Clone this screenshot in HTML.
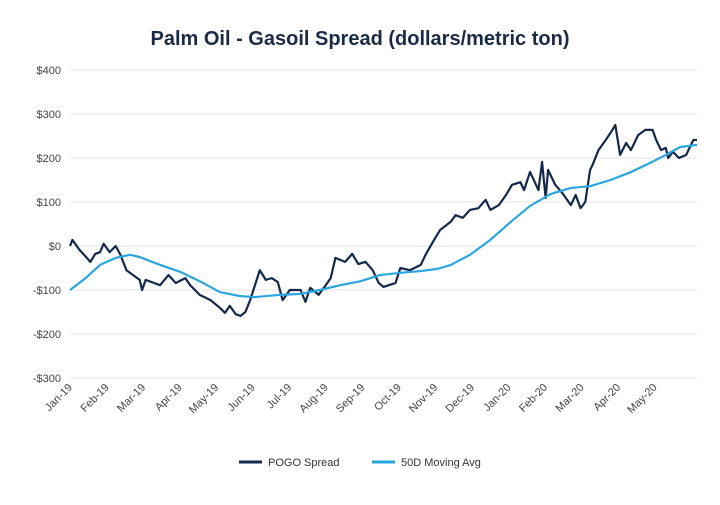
<!DOCTYPE html>
<html><head><meta charset="utf-8"><style>
body{margin:0;background:#fff;font-family:"Liberation Sans",sans-serif}
svg text{font-family:"Liberation Sans",sans-serif}
</style></head><body>
<svg width="720" height="500" viewBox="0 0 720 500">
<text x="360" y="45" text-anchor="middle" font-size="20" font-weight="bold" fill="#1b2a47">Palm Oil - Gasoil Spread (dollars/metric ton)</text>
<g id="grid"></g><g id="ylab"></g><g id="xlab"></g><g id="series"></g>
<g>
<g><line x1="239" y1="462" x2="262" y2="462" stroke="#13294b" stroke-width="3"/><text x="268" y="466" font-size="11" fill="#333">POGO Spread</text></g>
<g><line x1="372" y1="462" x2="395" y2="462" stroke="#2aa6de" stroke-width="3"/><text x="401" y="466" font-size="11" fill="#333">50D Moving Avg</text></g>
</g>
</svg>
<script>
const yTicks=[400,300,200,100,0,-100,-200,-300];
const yTickLabels=["$400","$300","$200","$100","$0","-$100","-$200","-$300"];
const months=["Jan-19","Feb-19","Mar-19","Apr-19","May-19","Jun-19","Jul-19","Aug-19","Sep-19","Oct-19","Nov-19","Dec-19","Jan-20","Feb-20","Mar-20","Apr-20","May-20"];
const spreadDays=[0,2,8,14,17,21,25,28,33,38,42,47,58,60,63,75,82,88,96,100,108,117,125,129,133,138,142,146,150,154,158,163,168,173,177,183,192,196,200,207,213,217,221,229,235,240,246,252,257,261,271,275,283,292,296,304,308,317,321,327,333,340,346,350,357,363,368,375,378,383,388,390,393,396,398,404,410,417,421,425,429,433,435,440,446,450,454,458,463,467,473,479,485,488,492,496,498,502,507,513,517,519,522];
const spreadVals=[0,14,-9,-27,-36,-18,-14,5,-14,0,-20,-55,-77,-100,-77,-89,-66,-84,-73,-89,-111,-123,-141,-152,-136,-155,-159,-150,-123,-89,-55,-77,-73,-82,-123,-100,-100,-127,-95,-111,-89,-73,-27,-36,-18,-41,-36,-55,-84,-93,-84,-50,-55,-43,-20,18,36,55,70,64,82,86,105,82,93,116,139,145,127,168,139,127,191,109,173,139,120,93,116,86,100,173,184,218,241,257,275,207,234,218,252,264,264,241,218,223,200,214,200,207,230,241,241];
const maDays=[0,13,25,38,50,58,75,92,108,125,142,154,175,192,208,225,242,258,275,292,306,317,333,350,367,383,400,417,433,450,467,483,496,508,522];
const maVals=[-100,-73,-43,-27,-20,-25,-43,-59,-80,-105,-114,-116,-111,-109,-100,-89,-80,-66,-61,-57,-52,-43,-20,14,55,91,118,132,136,150,168,189,207,225,230];
const X0=70,X1=697,Y0=246,PX=0.44,DAYS=522,MONTH=30.42;
const x=d=>X0+d*(X1-X0)/DAYS;
const y=v=>Y0-v*PX;
const NS="http://www.w3.org/2000/svg";
function mk(t,a,p){const e=document.createElementNS(NS,t);for(const k in a)e.setAttribute(k,a[k]);p.appendChild(e);return e;}
const grid=document.getElementById('grid'),yl=document.getElementById('ylab'),xl=document.getElementById('xlab'),ser=document.getElementById('series');
yTicks.forEach((v,i)=>{
 const g=mk('line',{x1:X0,x2:X1,y1:y(v),y2:y(v),stroke:'#e3e3e3','stroke-width':1},grid);
 
 
 const t=mk('text',{x:61,y:y(v)+4,'text-anchor':'end','font-size':11,fill:'#444'},yl);
 t.textContent=yTickLabels[i];
 
 
});
months.forEach((m,i)=>{
 const px=x(i*MONTH)+3;
 const t=mk('text',{x:px,y:388,'text-anchor':'end','font-size':11,fill:'#444',transform:`rotate(-45 ${px} 388)`},xl);
 t.textContent=m;
 
 
});
const p1=mk('polyline',{points:spreadDays.map((d,i)=>x(d)+','+y(spreadVals[i])).join(' '),fill:'none',stroke:'#13294b','stroke-width':2.2,'stroke-linejoin':'round'},ser);


const p2=mk('polyline',{points:maDays.map((d,i)=>x(d)+','+y(maVals[i])).join(' '),fill:'none',stroke:'#2aa6de','stroke-width':2.2,'stroke-linejoin':'round'},ser);


</script>
</body></html>
